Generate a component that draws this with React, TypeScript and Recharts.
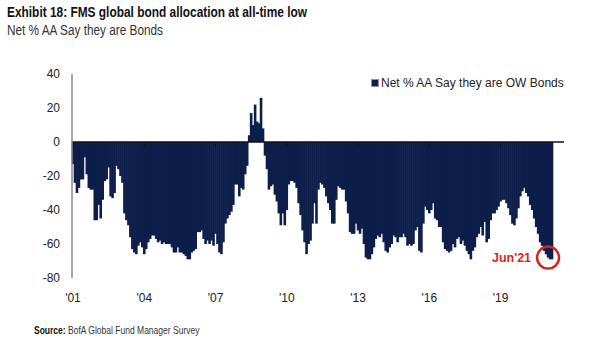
import { Bar, BarChart, ReferenceDot, ReferenceLine, XAxis, YAxis } from 'recharts';

// monthly survey readings, Apr 2001 .. Jun 2021
const startYear = 2001;
const startMonth = 4;

const netOwBonds = [
  -13, -24, -30, -27, -22, -22, -9, -19, -27, -28, -28, -46,
  -46, -37, -45, -34, -23, -22, -15, -32, -33, -30, -14, -16,
  -20, -24, -42, -46, -49, -56, -63, -65, -66, -61, -59, -62,
  -66, -63, -59, -57, -55, -55, -57, -59, -58, -60, -59, -60,
  -60, -60, -62, -65, -65, -62, -65, -65, -66, -67, -69, -69,
  -65, -64, -63, -53, -53, -52, -57, -60, -58, -60, -58, -61,
  -54, -60, -65, -66, -59, -48, -45, -43, -41, -37, -25, -25,
  -32, -27, -28, -19, -14, 4, 17, 10, 22, 12, 11, 26,
  8, -8, -16, -28, -26, -25, -31, -35, -42, -49, -42, -49,
  -40, -25, -23, -23, -24, -27, -36, -43, -52, -59, -66, -60,
  -58, -48, -36, -48, -28, -24, -25, -27, -32, -36, -40, -48,
  -48, -34, -26, -27, -28, -28, -35, -42, -53, -54, -54, -48,
  -52, -54, -51, -60, -68, -69, -69, -66, -62, -57, -55, -56,
  -54, -59, -64, -65, -62, -60, -55, -56, -59, -56, -56, -54,
  -56, -61, -60, -61, -60, -52, -50, -64, -65, -48, -38, -40,
  -42, -40, -36, -45, -46, -50, -50, -59, -63, -64, -65, -64,
  -60, -62, -57, -56, -60, -58, -61, -64, -66, -69, -64, -62,
  -56, -54, -50, -55, -47, -59, -57, -46, -42, -42, -40, -38,
  -35, -34, -34, -36, -39, -43, -48, -49, -45, -39, -32, -29,
  -27, -30, -32, -37, -40, -45, -50, -54, -59, -61, -64, -66,
  -68, -69, -69,
];

const months = netOwBonds.map((_, i) => {
  const m = startMonth - 1 + i;
  const y = startYear + Math.floor(m / 12);
  return `${y}-${String((m % 12) + 1).padStart(2, '0')}`;
});

const yTicks = [-80, -60, -40, -20, 0, 20, 40];
const tickMonths = months.filter((_, i) => i % 36 === 0);

const data = months.map((month, i) => ({ month, value: netOwBonds[i] }));

const NAVY = '#0d1e4b';
const RED = '#d2261d';
const FONT = '"Liberation Sans", Arial, sans-serif';
const NARROW = '"Liberation Sans Narrow", "Liberation Sans", sans-serif';

// bars are ~2px wide with no gap; draw them a touch wider so they butt together
const SolidBar = (props: any) => {
  const { x, y, width, height, fill } = props;
  if (height == null || width == null) return null;
  const cx = x + width / 2;
  const top = height < 0 ? y + height : y;
  return <rect x={cx - 1.3} y={top} width={2.6} height={Math.abs(height)} fill={fill} />;
};

export default function App() {
  return (
    <div style={{ position: 'absolute', left: 0, top: 0, width: 605, height: 341, background: '#fff' }}>
      <svg width={605} height={341} style={{ position: 'absolute', left: 0, top: 0 }}>
        <text x={7} y={17} fontFamily={NARROW} fontWeight='bold' fontSize={15} fill='#111' textLength={300} lengthAdjust='spacingAndGlyphs'>
          Exhibit 18: FMS global bond allocation at all-time low
        </text>
        <text x={7} y={35} fontFamily={NARROW} fontSize={14} fill='#333' textLength={156} lengthAdjust='spacingAndGlyphs'>
          Net % AA Say they are Bonds
        </text>
      </svg>
      <div
        style={{
          position: 'absolute',
          left: 34,
          top: 324,
          fontFamily: FONT,
          fontSize: 10.5,
          lineHeight: '12px',
          color: '#333',
          whiteSpace: 'nowrap',
          transform: 'scaleX(0.81)',
          transformOrigin: 'left center',
        }}
      >
        <b style={{ color: '#111' }}>Source:</b> BofA Global Fund Manager Survey
      </div>
      <div style={{ position: 'absolute', left: 0, top: 0 }}>
        <BarChart
          width={605}
          height={341}
          data={data}
          barCategoryGap={0}
          margin={{ top: 74, right: 41, bottom: 33, left: 12 }}
        >
          <XAxis
            dataKey='month'
            interval={35}
            axisLine={false}
            tickLine={false}
            tickMargin={9}
            height={30}
            padding={{ left: 0, right: 11 }}
            tickFormatter={(m: string) => `'${m.slice(2, 4)}`}
            tick={{ fontSize: 12, fill: '#222', fontFamily: FONT }}
          />
          <YAxis
            domain={[-80, 40]}
            ticks={yTicks}
            width={60}
            tickLine={false}
            tickMargin={6}
            axisLine={{ stroke: '#8a8a8a', strokeWidth: 1.5 }}
            tick={{ fontSize: 12, fill: '#222', fontFamily: FONT }}
          />
          <Bar dataKey='value' fill={NAVY} shape={SolidBar} isAnimationActive={false} />
          <ReferenceLine y={0} stroke='#111' strokeWidth={1.5} />
          {tickMonths.map((m) => (
            <ReferenceLine
              key={m}
              segment={[
                { x: m, y: 0 },
                { x: m, y: -2.5 },
              ]}
              stroke='#111'
            />
          ))}
          <ReferenceDot
            x={months[240]}
            y={-68}
            r={11}
            fill='none'
            stroke={RED}
            strokeWidth={2.5}
            ifOverflow='visible'
            label={{ value: "Jun'21", position: 'left', offset: 6, fill: RED, fontSize: 12.5, fontWeight: 'bold', fontFamily: FONT }}
          />
        </BarChart>
      </div>
      <div
        style={{
          position: 'absolute',
          left: 371,
          top: 76,
          display: 'flex',
          alignItems: 'center',
          fontFamily: FONT,
          fontSize: 12,
          color: '#222',
          whiteSpace: 'nowrap',
        }}
      >
        <span
          style={{
            display: 'inline-block',
            width: 6,
            height: 6,
            background: NAVY,
            border: '1px solid #8a93b0',
            marginRight: 2,
          }}
        />
        Net % AA Say they are OW Bonds
      </div>
    </div>
  );
}
